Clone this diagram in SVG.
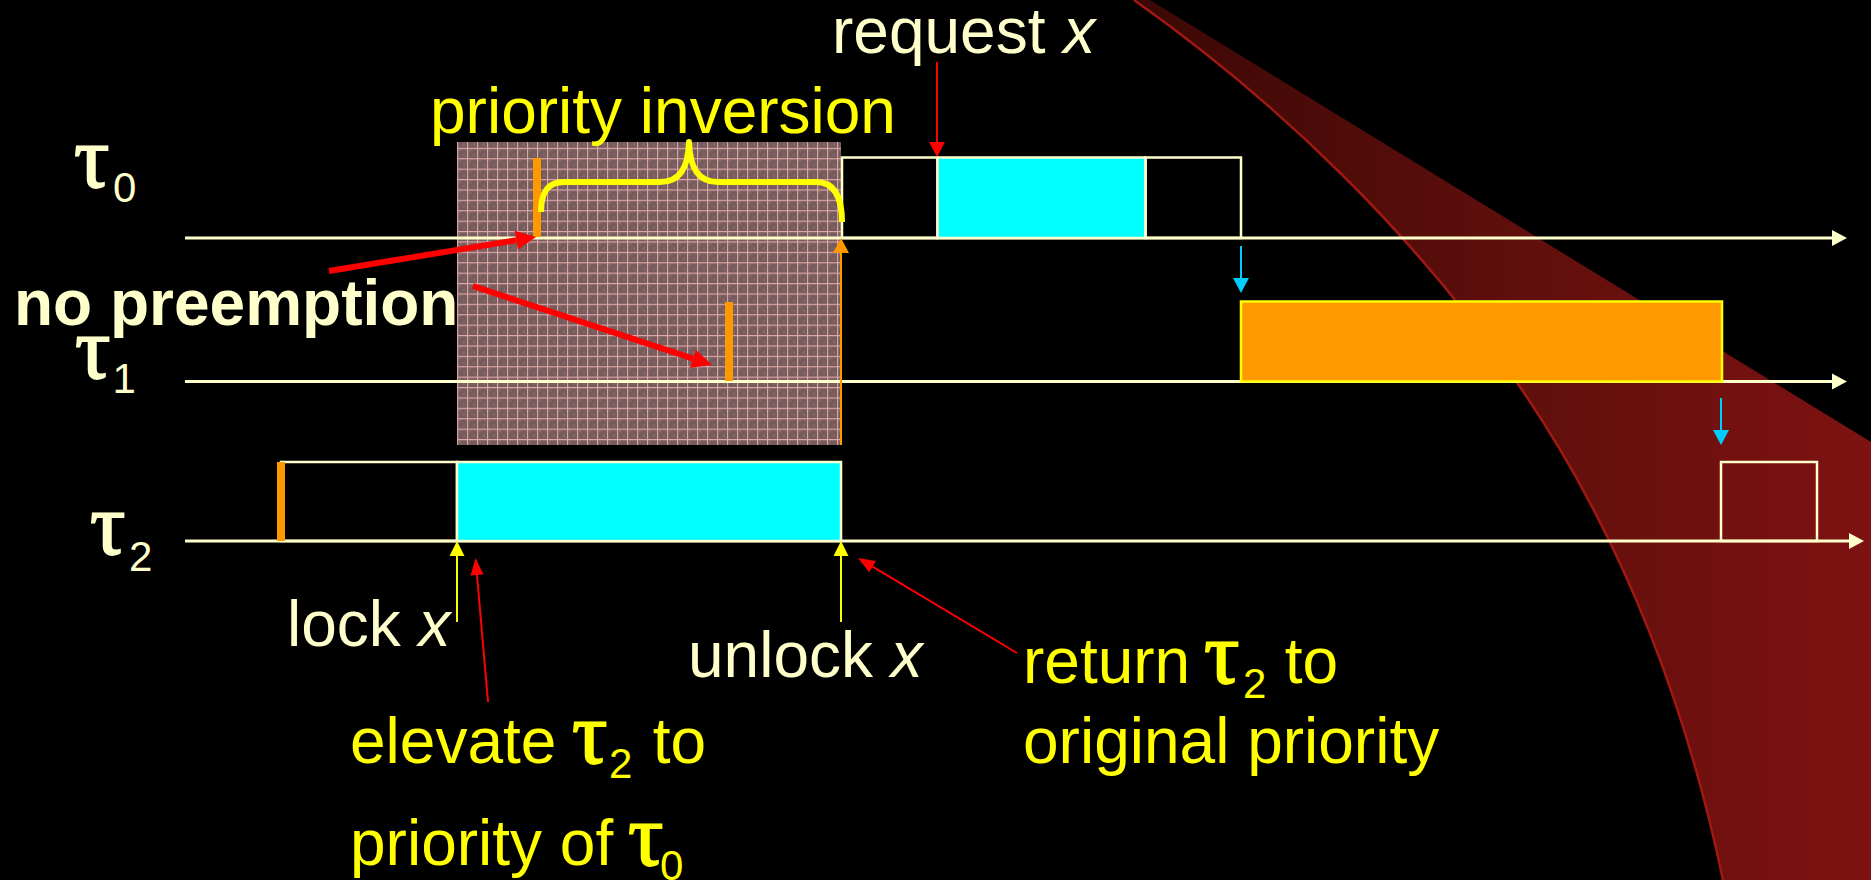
<svg xmlns="http://www.w3.org/2000/svg" width="1871" height="880" viewBox="0 0 1871 880">
<defs>
<style>
.t{font-family:"Liberation Sans",Arial,sans-serif;font-size:64px}
.b{font-weight:bold}
.cream{fill:#FFFFCC}
.yel{fill:#FFFF00}
.tau{font-family:"Liberation Serif","Times New Roman",serif;font-size:88px;stroke-width:1.8}
text.tau.cream{stroke:#FFFFCC}
.yel .tau{stroke:#FFFF00}
.sub{font-family:"Liberation Sans",Arial,sans-serif;font-size:42px;stroke:none}
.axis{stroke:#FFFFCC;stroke-width:3;fill:none}
.box{stroke:#FFFFCC;stroke-width:2.5;fill:none}
.cyanbox{stroke:#FFFFCC;stroke-width:2.5;fill:#00FFFF}
.bar{fill:#FF9900}
</style>
<linearGradient id="swg" gradientUnits="userSpaceOnUse" x1="1134" y1="0" x2="1871" y2="0">
<stop offset="0" stop-color="#3a0805"/>
<stop offset="0.5" stop-color="#5e0f0c"/>
<stop offset="1" stop-color="#7e1212"/>
</linearGradient>
<pattern id="grid" patternUnits="userSpaceOnUse" x="457" y="387" width="10" height="10.4">
<rect width="10" height="10.4" fill="#775c5d"/>
<rect x="2" y="2" width="2" height="2" fill="#876a6a"/>
<rect x="6" y="6" width="2" height="2" fill="#876a6a"/>
<path d="M0.6,0 V10.4 M0,0.6 H10" stroke="#e0a8a8" stroke-width="1.1"/>
</pattern>
<marker id="mCream" markerUnits="userSpaceOnUse" viewBox="0 -10 20 20" markerWidth="20" markerHeight="20" refX="0" refY="0" orient="auto" overflow="visible"><path d="M0,-8 L15,0 L0,8 z" fill="#FFFFCC"/></marker>
<marker id="mRed" markerUnits="userSpaceOnUse" viewBox="0 -10 20 20" markerWidth="20" markerHeight="20" refX="0" refY="0" orient="auto" overflow="visible"><path d="M0,-8 L15,0 L0,8 z" fill="#FF0000"/></marker>
<marker id="mRed2" markerUnits="userSpaceOnUse" viewBox="0 -10 20 20" markerWidth="20" markerHeight="20" refX="0" refY="0" orient="auto" overflow="visible"><path d="M0,-6.5 L17,0 L0,6.5 z" fill="#FF0000"/></marker>
<marker id="mRedBig" markerUnits="userSpaceOnUse" viewBox="0 -12 24 24" markerWidth="24" markerHeight="24" refX="0" refY="0" orient="auto" overflow="visible"><path d="M0,-9.5 L20,0 L0,9.5 z" fill="#FF0000"/></marker>
<marker id="mYel" markerUnits="userSpaceOnUse" viewBox="0 -10 20 20" markerWidth="20" markerHeight="20" refX="0" refY="0" orient="auto" overflow="visible"><path d="M0,-7.5 L15,0 L0,7.5 z" fill="#FFFF00"/></marker>
<marker id="mCyan" markerUnits="userSpaceOnUse" viewBox="0 -10 20 20" markerWidth="20" markerHeight="20" refX="0" refY="0" orient="auto" overflow="visible"><path d="M0,-8 L15,0 L0,8 z" fill="#00CCFF"/></marker>
<marker id="mOr" markerUnits="userSpaceOnUse" viewBox="0 -10 20 20" markerWidth="20" markerHeight="20" refX="0" refY="0" orient="auto" overflow="visible"><path d="M0,-8 L15,0 L0,8 z" fill="#FF9900"/></marker>
</defs>
<rect width="1871" height="880" fill="#000000"/>
<g id="swoosh">
<path d="M1134,0 L1150,0 L1871,442 L1871,880 L1723,880 C1686,703 1620,532 1518,384 C1416,236 1281,104 1134,0 z" fill="url(#swg)"/>
<path d="M1723,880 C1686,703 1620,532 1518,384 C1416,236 1281,104 1134,0" fill="none" stroke="#a01812" stroke-width="2.5"/>
</g>
<g id="inversion-region">
<rect x="457" y="142" width="384" height="303" fill="url(#grid)"/>
</g>
<g id="axes">
<line class="axis" x1="185" y1="238" x2="1832" y2="238" marker-end="url(#mCream)"/>
<line class="axis" x1="185" y1="381.5" x2="1832" y2="381.5" marker-end="url(#mCream)"/>
<line class="axis" x1="185" y1="541" x2="1849" y2="541" marker-end="url(#mCream)"/>
</g>
<g id="tau0-jobs">
<rect class="box" x="842" y="157.5" width="95.5" height="80.5"/>
<rect class="cyanbox" x="937.5" y="157.5" width="208" height="80.5"/>
<rect class="box" x="1145.5" y="157.5" width="95.5" height="80.5"/>
<rect class="bar" x="533" y="158" width="8" height="79"/>
</g>
<g id="tau1-jobs">
<rect x="1241" y="301.5" width="481" height="80" fill="#FF9900" stroke="#FFFF00" stroke-width="2.5"/>
<rect class="bar" x="725" y="302" width="8" height="79"/>
</g>
<g id="tau2-jobs">
<rect class="box" x="281" y="462" width="176" height="79"/>
<rect class="cyanbox" x="457" y="462" width="384" height="79"/>
<rect class="box" x="1721" y="462" width="96" height="79"/>
<rect class="bar" x="277" y="462" width="8" height="79"/>
</g>
<g id="brace">
<path d="M541,212 C541,192 548,182 564,182 L660,182 C680,182 688,168 689,142 C690,168 698,182 718,182 L816,182 C834,182 842,196 842,222" fill="none" stroke="#FFFF00" stroke-width="6" stroke-linejoin="round"/>
</g>
<g id="connectors">
<line x1="937" y1="62" x2="937" y2="142" stroke="#FF0000" stroke-width="2" marker-end="url(#mRed)"/>
<line x1="841" y1="445" x2="841" y2="253" stroke="#FF9900" stroke-width="2" marker-end="url(#mOr)"/>
<line x1="1241" y1="246" x2="1241" y2="278" stroke="#00CCFF" stroke-width="2" marker-end="url(#mCyan)"/>
<line x1="1721" y1="398" x2="1721" y2="430" stroke="#00CCFF" stroke-width="2" marker-end="url(#mCyan)"/>
<line x1="457" y1="622" x2="457" y2="556" stroke="#FFFF00" stroke-width="2" marker-end="url(#mYel)"/>
<line x1="841" y1="622" x2="841" y2="556" stroke="#FFFF00" stroke-width="2" marker-end="url(#mYel)"/>
<line x1="488" y1="702" x2="477" y2="575" stroke="#FF0000" stroke-width="2" marker-end="url(#mRed2)"/>
<line x1="1017" y1="653" x2="872.6" y2="566.7" stroke="#FF0000" stroke-width="2" marker-end="url(#mRed2)"/>
<line x1="329" y1="271" x2="516.3" y2="240.2" stroke="#FF0000" stroke-width="6" marker-end="url(#mRedBig)"/>
<line x1="473" y1="286" x2="693" y2="358.7" stroke="#FF0000" stroke-width="6" marker-end="url(#mRedBig)"/>
</g>
<g id="labels">
<text class="tau cream" x="74" y="187">τ<tspan class="sub" x="113" y="202">0</tspan></text>
<text class="tau cream" x="75" y="378">τ<tspan class="sub" x="112.5" y="393">1</tspan></text>
<text class="tau cream" x="90" y="554">τ<tspan class="sub" x="129" y="571">2</tspan></text>
<text class="t cream" x="832" y="53">request <tspan font-style="italic">x</tspan></text>
<text class="t yel" x="430" y="133">priority inversion</text>
<text class="t b cream" x="14" y="325">no preemption</text>
<text class="t cream" x="287" y="646">lock <tspan font-style="italic">x</tspan></text>
<text class="t cream" x="688" y="677">unlock <tspan font-style="italic">x</tspan></text>
<text class="t yel" x="350" y="763">elevate <tspan class="tau" x="572">τ</tspan><tspan class="sub" x="609" y="778">2</tspan><tspan x="635" y="763"> to</tspan></text>
<text class="t yel" x="350" y="865">priority of <tspan class="tau" x="628">τ</tspan><tspan class="sub" x="660" y="880">0</tspan></text>
<text class="t yel" x="1023" y="683">return <tspan class="tau" x="1204">τ</tspan><tspan class="sub" x="1243" y="698">2</tspan><tspan x="1267" y="683"> to</tspan></text>
<text class="t yel" x="1023" y="763">original priority</text>
</g>
</svg>
